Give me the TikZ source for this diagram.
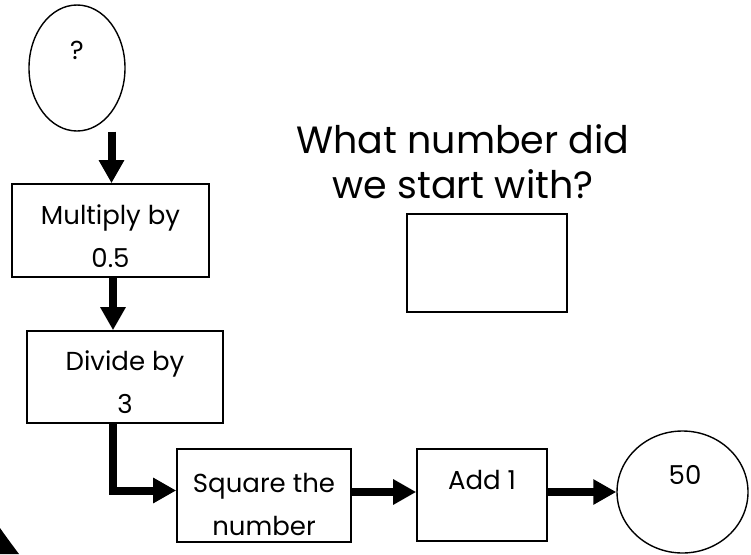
\documentclass[tikz,border=0pt]{standalone}
\usepackage{fontspec}
\setmainfont{Poppins}
\usetikzlibrary{arrows.meta,shapes.geometric}
\begin{document}
\begin{tikzpicture}[x=1pt,y=-1pt,
  box/.style={draw,line width=1.6pt,rectangle,inner sep=0pt},
  oval/.style={draw,line width=1.4pt,ellipse,inner sep=0pt},
  small/.style={align=center,inner sep=0pt,font=\fontsize{26}{43}\selectfont},
  big/.style={align=center,inner sep=0pt,font=\fontsize{38}{45}\selectfont},
  flow/.style={line width=8pt,-{Triangle[width=24pt,length=23pt]}}]
\useasboundingbox (0,0) rectangle (751,554);
\fill[white] (0,0) rectangle (751,554);
% frame corner
\fill[black] (0,528) .. controls (7,538) and (13,546) .. (19,554) -- (0,554) -- cycle;
% shapes
\node[oval,minimum width=96,minimum height=126] (q) at (77,68) {};
\node[box,minimum width=197,minimum height=93] (mul) at (110.5,230.5) {};
\node[box,minimum width=196,minimum height=92] (div) at (125,377) {};
\node[box,minimum width=174,minimum height=93] (sq) at (264,495.5) {};
\node[box,minimum width=130,minimum height=92] (add) at (482,495) {};
\node[oval,minimum width=131,minimum height=122] (res) at (682.5,492) {};
\node[box,minimum width=160,minimum height=98] (ans) at (487,263) {};
% texts
\node[small] (qt) at (77,50) {?};
\node[small] (mult) at (110.5,236) {Multiply by\\0.5};
\node[small] (divt) at (125,382) {Divide by\\3};
\node[small] (sqt) at (264,504) {Square the\\number};
\node[small] (addt) at (482,480) {Add 1};
\node[small] (rest) at (685,475) {50};
\node[big] (ask) at (463,162) {What number did\\we start with?};
% connectors
\draw[flow] (q.south -| mul.north) ++(1,0) coordinate (c0) -- (c0 |- mul.north);
\draw[flow] ([xshift=2.5pt]mul.south) coordinate (c1) -- (c1 |- div.north);
\draw[flow] (div.south -| c1) -- ([yshift=5pt]sq.west -| c1) -- ([yshift=5pt]sq.west);
\draw[flow] (sq.east |- res.west) -- (add.west |- res.west);
\draw[flow] (add.east |- res.west) -- (res.west);
\end{tikzpicture}
\end{document}
